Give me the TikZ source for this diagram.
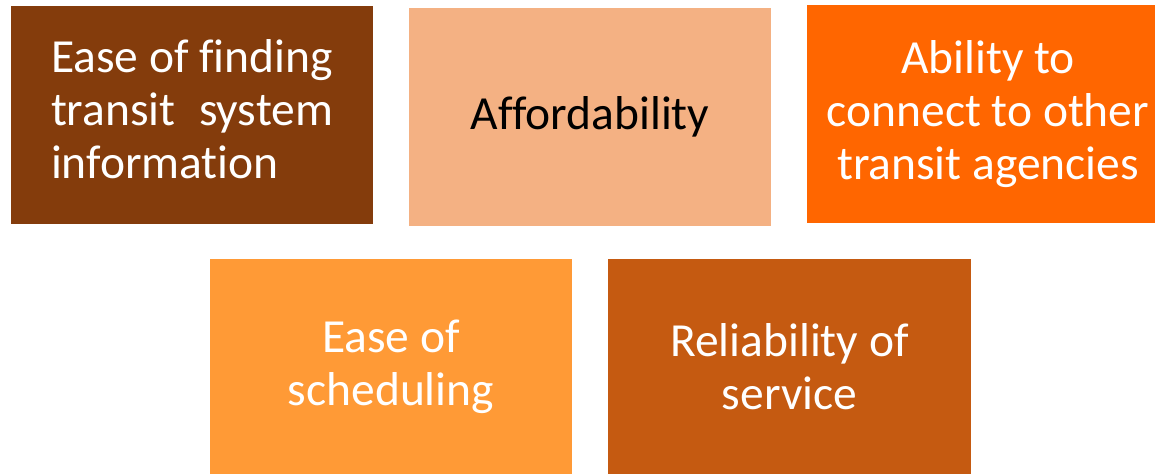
\documentclass[tikz,border=0pt]{standalone}
\usepackage{fontspec}
\setmainfont[Ligatures={NoCommon}]{Carlito}
\definecolor{cA}{HTML}{843C0C}
\definecolor{cB}{HTML}{F4B183}
\definecolor{cC}{HTML}{FF6600}
\definecolor{cD}{HTML}{FF9A36}
\definecolor{cE}{HTML}{C55A11}
\tikzset{
  tile/.style={rectangle, inner sep=0pt, minimum width=362pt, minimum height=218pt,
    align=center, text=white, font=\fontsize{47.5}{53}\selectfont},
}
\begin{document}
\begin{tikzpicture}[x=1pt,y=-1pt]
\useasboundingbox (0,0) rectangle (1155,474);
\clip (0,0) rectangle (1155,474);
\node[tile, fill=cA] (b1) at (192,115)
  {\begin{tabular}{@{}l@{}}Ease of finding\\ transit\hfill system\\ information\end{tabular}};
\node[tile, fill=cB, text=black] (b2) at (590,117) {Affordability};
\node[tile, fill=cC] (b3) at (988,114) {Ability to\\ connect to other\\ transit agencies};
\node[tile, fill=cD, minimum height=215pt] (b4) at (391,366.5) {Ease of\\ scheduling};
\node[tile, fill=cE, minimum width=363pt, minimum height=215pt] (b5) at (789.5,366.5) {Reliability of\\ service};
\end{tikzpicture}
\end{document}
